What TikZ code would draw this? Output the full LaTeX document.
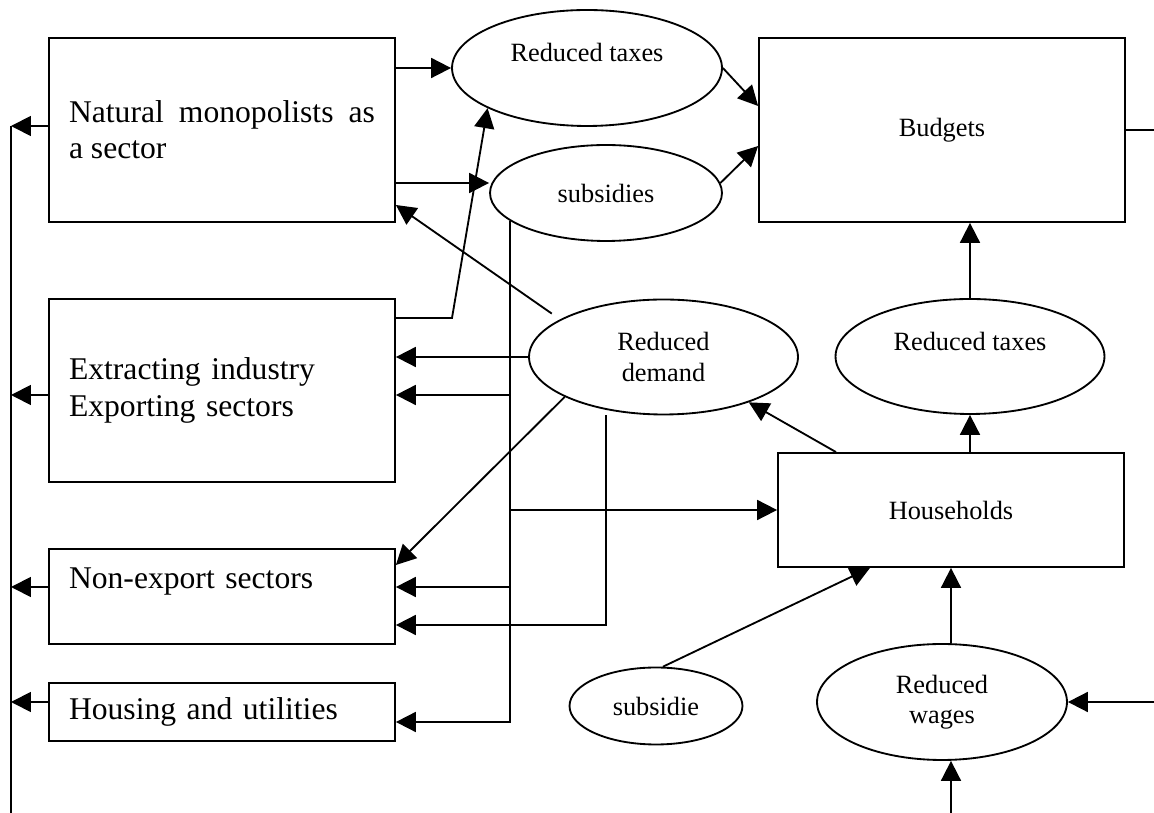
\documentclass[tikz,border=0pt]{standalone}
\usepackage{fontspec}
\setmainfont{Liberation Serif}
\usetikzlibrary{%
  arrows.meta,%
  shapes.geometric,% wg. ellipse
  calc%
}

\begin{document}
\begin{tikzpicture}[
  x=0.02cm, y=-0.02cm,
  >={Triangle[length=0.4cm,width=0.4cm]},
  line width=1.05pt,
  sectorbox/.style={draw, rectangle, text width=6.12cm, inner xsep=0.4cm,
    inner ysep=0pt, align=left, font=\fontsize{18}{20.7}\selectfont},
  plainbox/.style={draw, rectangle, inner sep=0pt, align=center,
    font=\fontsize{15}{17.25}\selectfont},
  effect/.style={draw, ellipse, inner sep=0pt, align=center,
    font=\fontsize{15}{17.25}\selectfont},
]

\useasboundingbox (0,0) rectangle (1154,813);

% sectors
\node[sectorbox, align=justify, minimum height=3.68cm] (nm) at (222,130) {Natural monopolists as\linebreak a sector};
\node[sectorbox, minimum height=3.66cm] (ext) at (222,390.5) {Extracting industry\\Exporting sectors};
\node[sectorbox, minimum height=1.9cm] (nonexp) at (222,596.5) {Non-export sectors\\\mbox{}};
\node[sectorbox, minimum height=1.16cm] (house) at (222,712) {Housing and utilities};

\node[plainbox, minimum width=7.32cm, minimum height=3.68cm] (budg) at (942,130) {Budgets};
\node[plainbox, minimum width=6.92cm, minimum height=2.28cm] (hh) at (951,510) {Households};

% effects
\node[effect, minimum width=5.4cm, minimum height=2.32cm] (rtax1) at (587,68) {Reduced taxes\\\mbox{}};
\node[effect, minimum width=4.64cm, minimum height=1.92cm] (subs) at (606,193) {subsidies};
\node[effect, minimum width=5.38cm, minimum height=2.3cm] (rdem) at (663.5,357) {Reduced\\demand};
\node[effect, minimum width=5.38cm, minimum height=2.3cm] (rtax2) at (970,356.5) {Reduced taxes\\\mbox{}};
\node[effect, minimum width=3.46cm, minimum height=1.54cm] (subsd) at (656,706) {subsidie};
\node[effect, minimum width=5cm, minimum height=2.32cm] (rwage) at (942,702) {Reduced\\wages};

\coordinate (bend) at (452,318);
\coordinate (bus) at (11,126);
\coordinate (busend) at (11,813);
\coordinate (wagein) at (1154,702);
\coordinate (wagebot) at (951,813);

% to the budgets
\draw[->] (nm.east |- rtax1.west) -- (rtax1.west);
\draw[->] (nm.east |- 0,183) -- (subs.west |- 0,183);
\draw[->] (rtax1.east) -- (budg.west |- 0,106);
\draw[->] (subs.5) -- (budg.west |- 0,146);
\draw[->] (ext.east |- bend) -- (bend) -- (rtax1.202);
\draw (budg.east) -- (budg.east -| wagein);

% demand
\draw[->, shorten <=0.2cm] (rdem.160) -- (nm.east |- 0,205);
\draw[->] (rdem.west) -- (ext.east |- rdem.west);
\draw[->] (rdem.202) -- (nonexp.east |- 0,565);
\draw[->] (rdem.south -| 606,0) |- (nonexp.east |- 0,625);

% subsidies
\draw[->] (subs.196) |- (house.east |- 0,722);
\draw[->] (subs.196 |- 0,395) -- (ext.east |- 0,395);
\draw[->] (subs.196 |- hh.west) -- (hh.west);
\draw[->] (subs.196 |- 0,587) -- (nonexp.east |- 0,587);

% households
\draw[->] (hh.north -| 836,0) -- (rdem.332);
\draw[->] (hh.north -| rtax2.south) -- (rtax2.south);
\draw[->] (rtax2.north) -- (budg.south -| rtax2.north);
\draw[->] (subsd.80) -- (hh.south -| 870,0);
\draw[->] (rwage.north -| hh.south) -- (hh.south);
\draw[->] (wagein) -- (rwage.east);
\draw[->] (wagebot) -- (rwage.south -| wagebot);

% back to the left
\draw (bus) -- (busend);
\draw[->] (nm.west |- bus) -- (bus);
\draw[->] (ext.west |- 0,395) -- (bus |- 0,395);
\draw[->] (nonexp.west |- 0,587) -- (bus |- 0,587);
\draw[->] (house.west |- 0,702) -- (bus |- 0,702);
\end{tikzpicture}
\end{document}
